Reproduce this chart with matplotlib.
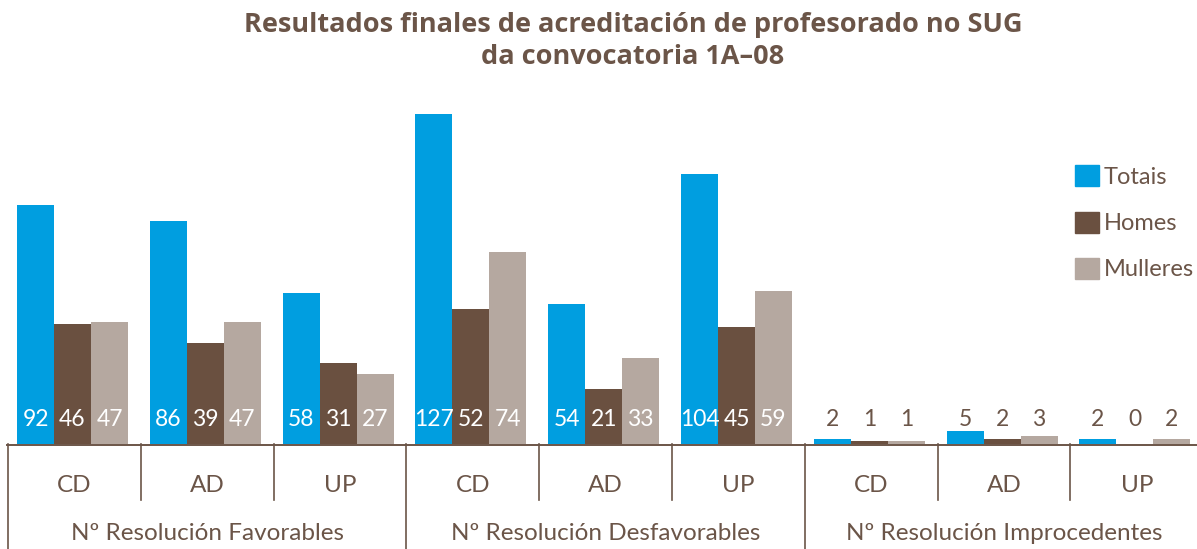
"""
Resultados finales de acreditación de profesorado no SUG (convocatoria 1A-08).
"""

import matplotlib.pyplot as plt
from matplotlib.patches import Patch

GROUPS = ["Nº Resolución Favorables", "Nº Resolución Desfavorables", "Nº Resolución Improcedentes"]
CATEGORIES = ["CD", "AD", "UP"]
SERIES = ["Totais", "Homes", "Mulleres"]
TOTAIS = [92, 86, 58, 127, 54, 104, 2, 5, 2]
HOMES = [46, 39, 31, 52, 21, 45, 1, 2, 0]
MULLERES = [47, 47, 27, 74, 33, 59, 1, 3, 2]

COLORS = ["#009ee0", "#6a5040", "#b5a8a0"]
TEXT = "#6b5548"
LINE = "#6b5548"

plt.rcParams["font.family"] = ["Lato", "DejaVu Sans"]


def create_chart() -> None:
    fig = plt.figure(figsize=(11.97, 5.49), dpi=100)
    W, H = 1197, 549
    x0, gw = 8, 132.8
    base = 444
    ax = fig.add_axes([x0 / W, (H - base) / H, 9 * gw / W, (base - 90) / H])
    axb = fig.add_axes([x0 / W, 0, 9 * gw / W, (H - base) / H])

    n = len(TOTAIS)
    bw = 37 / gw
    off = 9 / gw
    for k, vals in enumerate([TOTAIS, HOMES, MULLERES]):
        xs = [g + off + k * bw for g in range(n)]
        ax.bar(xs, vals, width=bw, align="edge", color=COLORS[k], linewidth=0)
        for x, v in zip(xs, vals):
            inside = v > 12
            ax.annotate(str(v), (x + bw / 2, 0), xytext=(0, 17.5),
                        textcoords="offset points", ha="center", va="center",
                        fontsize=16.5, color="white" if inside else TEXT)

    ax.set_xlim(0, 9)
    ax.set_ylim(0, (base - 90) / 2.598)
    ax.axis("off")

    axb.set_xlim(0, 9)
    axb.set_ylim(H - base, 0)
    axb.axis("off")
    axb.plot([-0.01, 9], [0.5, 0.5], color=LINE, lw=1.4, clip_on=False)
    for g in range(n):
        if g % 3 == 0:
            axb.plot([g, g], [0, H - base], color=LINE, lw=1.2, clip_on=False)
        else:
            axb.plot([g, g], [0, 56], color=LINE, lw=1.2, clip_on=False)
        axb.text(g + 0.5, 42, CATEGORIES[g % 3], ha="center", va="center",
                 fontsize=17.5, color=TEXT)
    for i, name in enumerate(GROUPS):
        axb.text(3 * i + 1.5, 89, name, ha="center", va="center",
                 fontsize=17.5, color=TEXT)

    handles = [Patch(color=c, label=s) for c, s in zip(COLORS, SERIES)]
    fig.legend(handles=handles, loc="upper left",
               bbox_to_anchor=(1054 / W, 1 - 144 / H), frameon=False,
               fontsize=17, handlelength=1.0, handleheight=1.0,
               handletextpad=0.2, labelspacing=1.0, labelcolor=TEXT)

    fig.text(633 / W, 1 - 41 / H,
             "Resultados finales de acreditación de profesorado no SUG\nda convocatoria 1A\u201308",
             ha="center", va="center", fontsize=19.5, fontweight="bold",
             family=["Open Sans", "DejaVu Sans"], color=TEXT, linespacing=1.35)

    fig.savefig("out.png", dpi=100)


if __name__ == "__main__":
    create_chart()
